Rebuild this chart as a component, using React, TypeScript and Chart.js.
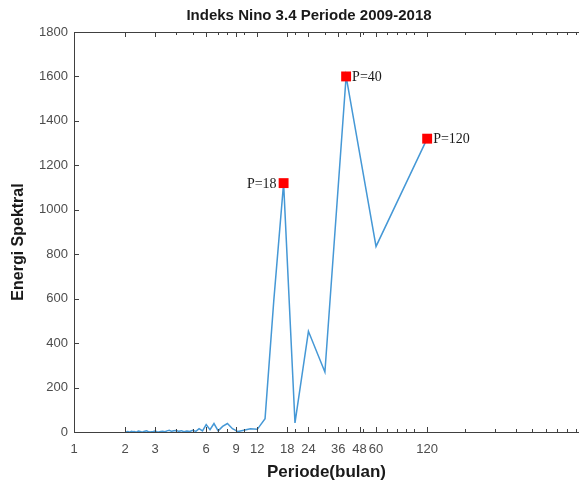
import React, { useEffect, useRef } from 'react';
import { Chart, registerables } from 'chart.js';

Chart.register(...registerables);

// Periods (months) of the spectrum, ascending
const periods = [
  2, 2.03, 2.07, 2.1, 2.14, 2.18, 2.22, 2.26, 2.31, 2.35,
  2.4, 2.45, 2.5, 2.55, 2.61, 2.67, 2.73, 2.79, 2.86, 2.93,
  3, 3.08, 3.16, 3.24, 3.33, 3.43, 3.53, 3.64, 3.75, 3.87,
  4, 4.14, 4.29, 4.44, 4.62, 4.8, 5, 5.22, 5.45, 5.71,
  6, 6.32, 6.67, 7.06, 7.5, 8, 8.57, 9.23, 10, 10.91,
  12, 13.33, 15, 17.14, 20, 24, 30, 40, 60, 120,
];
// Spectral energy for each period
const energy = [
  1, 0, 2, 1, 0, 3, 1, 2, 0, 1,
  4, 2, 0, 1, 3, 5, 2, 0, 1, 2,
  4, 1, 0, 2, 3, 1, 5, 8, 3, 6,
  7, 3, 6, 1, 4, 2, 8, 3, 15, 5,
  33, 10, 38, 5, 25, 38, 15, 2, 8, 15,
  12, 60, 590, 1120, 41, 453, 270, 1600, 835, 1320,
];

const peakPeriods = [17.14, 40, 120];
const peakEnergy = [1120, 1600, 1320];
const peakLabels = ['P=18', 'P=40', 'P=120'];
const peakLabelSide = ['left', 'right', 'right'];

const xTickValues = [1, 2, 3, 6, 9, 12, 18, 24, 36, 48, 60, 120];
const yTickValues = [0, 200, 400, 600, 800, 1000, 1200, 1400, 1600, 1800];

const chartTitle = 'Indeks Nino 3.4 Periode 2009-2018';
const xTitle = 'Periode(bulan)';
const yTitle = 'Energi Spektral';

const X_MIN = 1;
const X_MAX = 940;
const Y_MIN = 0;
const Y_MAX = 1800;

const AXIS_COLOR = '#404040';
const SANS = '"Liberation Sans", Arial, sans-serif';
const SERIF = '"Liberation Serif", "Times New Roman", serif';

const decorPlugin = {
  id: 'decor',
  afterDraw(chart: any) {
    const ctx = chart.ctx;
    const { left, right, top, bottom } = chart.chartArea;
    const xs = chart.scales.x;
    const ys = chart.scales.y;
    ctx.save();
    // axes box
    ctx.strokeStyle = AXIS_COLOR;
    ctx.lineWidth = 1;
    ctx.beginPath();
    ctx.moveTo(left + 0.5, top + 0.5);
    ctx.lineTo(left + 0.5, bottom + 0.5);
    ctx.lineTo(right + 2, bottom + 0.5);
    ctx.moveTo(left + 0.5, top + 0.5);
    ctx.lineTo(right + 2, top + 0.5);
    ctx.stroke();

    // x ticks (inner), major and minor
    const majorLen = 5;
    const minorLen = 3;
    ctx.beginPath();
    for (let d = 1; d <= 100; d *= 10) {
      for (let m = 1; m <= 9; m++) {
        const v = m * d;
        if (v < X_MIN || v > X_MAX) continue;
        const px = Math.round(xs.getPixelForValue(v)) + 0.5;
        ctx.moveTo(px, bottom);
        ctx.lineTo(px, bottom - minorLen);
        ctx.moveTo(px, top);
        ctx.lineTo(px, top + minorLen);
      }
    }
    for (const v of xTickValues) {
      const px = Math.round(xs.getPixelForValue(v)) + 0.5;
      ctx.moveTo(px, bottom);
      ctx.lineTo(px, bottom - majorLen);
      ctx.moveTo(px, top);
      ctx.lineTo(px, top + majorLen);
    }
    for (const v of yTickValues) {
      const py = Math.round(ys.getPixelForValue(v)) + 0.5;
      ctx.moveTo(left, py);
      ctx.lineTo(left + majorLen, py);
    }
    ctx.stroke();

    // peak labels
    const meta = chart.getDatasetMeta(1);
    ctx.font = '14px ' + SERIF;
    ctx.fillStyle = '#1a1a1a';
    ctx.textBaseline = 'middle';
    meta.data.forEach((pt: any, i: number) => {
      if (peakLabelSide[i] === 'left') {
        ctx.textAlign = 'right';
        ctx.fillText(peakLabels[i], pt.x - 7, pt.y + 1);
      } else {
        ctx.textAlign = 'left';
        ctx.fillText(peakLabels[i], pt.x + 6, pt.y + 1);
      }
    });

    // titles
    ctx.fillStyle = '#1a1a1a';
    ctx.textAlign = 'center';
    ctx.font = 'bold 15px ' + SANS;
    ctx.fillText(chartTitle, 309, 16);
    ctx.font = 'bold 17px ' + SANS;
    ctx.fillText(xTitle, (left + right) / 2, 472);
    ctx.save();
    ctx.translate(19, (top + bottom) / 2 + 10);
    ctx.rotate(-Math.PI / 2);
    ctx.font = 'bold 16px ' + SANS;
    ctx.fillText(yTitle, 0, 0);
    ctx.restore();
    ctx.restore();
  },
};

export default function App() {
  const canvasRef = useRef<HTMLCanvasElement | null>(null);

  useEffect(() => {
    const canvas = canvasRef.current;
    if (!canvas) return;
    const lineData = periods.map((p, i) => ({ x: p, y: energy[i] }));
    const peakData = peakPeriods.map((p, i) => ({ x: p, y: peakEnergy[i] }));
    const chart = new Chart(canvas, {
      type: 'line',
      data: {
        datasets: [
          {
            data: lineData,
            borderColor: '#4598d6',
            borderWidth: 1.5,
            pointRadius: 0,
            tension: 0,
            fill: false,
            order: 2,
          },
          {
            type: 'scatter',
            data: peakData,
            pointStyle: 'rect',
            pointRadius: 7,
            pointBackgroundColor: '#ff0000',
            pointBorderColor: '#ff0000',
            pointBorderWidth: 0,
            clip: false,
            order: 1,
          } as any,
        ],
      },
      options: {
        responsive: false,
        animation: false,
        layout: { autoPadding: false, padding: { top: 32, right: 0, left: 0, bottom: 0 } },
        plugins: {
          legend: { display: false },
          title: { display: false },
          tooltip: { enabled: false },
        },
        scales: {
          x: {
            type: 'logarithmic',
            min: X_MIN,
            max: X_MAX,
            grid: { display: false, drawTicks: false },
            border: { display: false },
            afterBuildTicks: (scale: any) => {
              scale.ticks = xTickValues.map((v) => ({ value: v }));
            },
            afterFit: (scale: any) => {
              scale.height = 54;
            },
            ticks: {
              autoSkip: false,
              maxRotation: 0,
              minRotation: 0,
              padding: 10,
              color: '#4d4d4d',
              font: { family: SANS, size: 13 },
              callback: (v: any) => String(v),
            },
          },
          y: {
            type: 'linear',
            min: Y_MIN,
            max: Y_MAX,
            grid: { display: false, drawTicks: false },
            border: { display: false },
            afterBuildTicks: (scale: any) => {
              scale.ticks = yTickValues.map((v) => ({ value: v }));
            },
            afterFit: (scale: any) => {
              scale.width = 74;
            },
            ticks: {
              padding: 6,
              color: '#4d4d4d',
              font: { family: SANS, size: 13 },
              callback: (v: any) => String(v),
            },
          },
        },
      },
      plugins: [decorPlugin],
    });
    return () => chart.destroy();
  }, []);

  return (
    <div style={{ position: 'fixed', left: 0, top: 0, width: 579, height: 486, background: '#fff' }}>
      <canvas ref={canvasRef} width={579} height={486} style={{ display: 'block' }} />
    </div>
  );
}
